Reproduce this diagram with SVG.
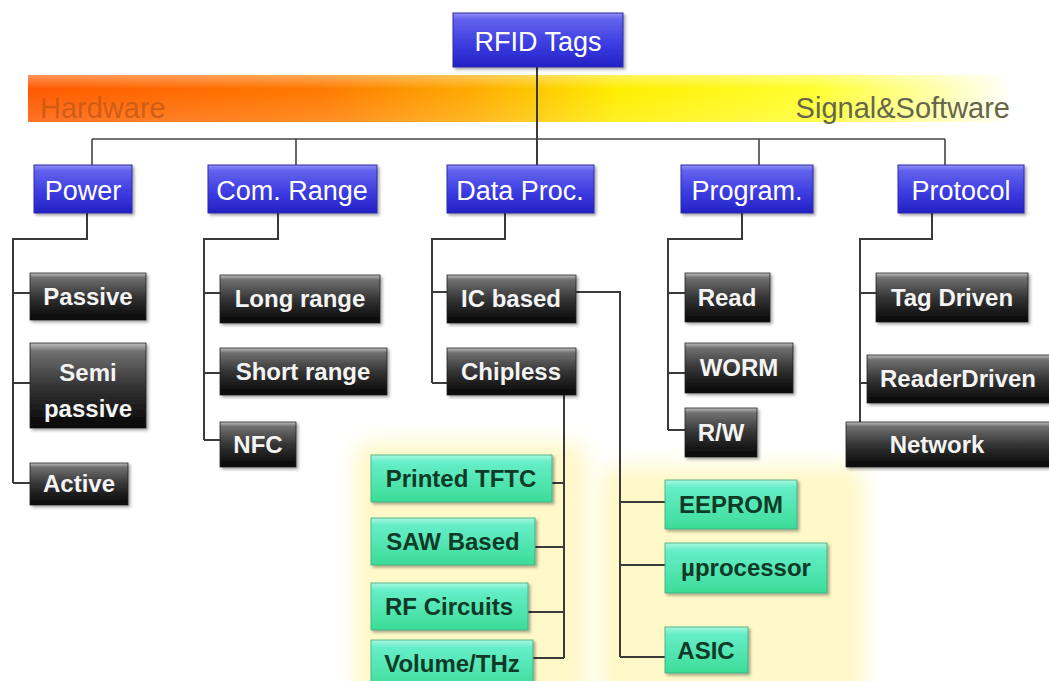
<svg xmlns="http://www.w3.org/2000/svg" width="1049" height="681" viewBox="0 0 1049 681">
<defs>
  <linearGradient id="band" x1="28" y1="0" x2="1012" y2="0" gradientUnits="userSpaceOnUse">
    <stop offset="0" stop-color="#ff5a00"/>
    <stop offset="0.3" stop-color="#ff7a00"/>
    <stop offset="0.45" stop-color="#ffaa00"/>
    <stop offset="0.6" stop-color="#ffee00"/>
    <stop offset="0.8" stop-color="#ffff30"/>
    <stop offset="0.93" stop-color="#ffffb0"/>
    <stop offset="1" stop-color="#ffffff"/>
  </linearGradient>
  <linearGradient id="bandGloss" x1="0" y1="0" x2="0" y2="1">
    <stop offset="0" stop-color="#ffffff" stop-opacity="0.35"/>
    <stop offset="0.3" stop-color="#ffffff" stop-opacity="0"/>
    <stop offset="1" stop-color="#ffffff" stop-opacity="0.15"/>
  </linearGradient>
  <linearGradient id="blue" x1="0" y1="0" x2="0" y2="1">
    <stop offset="0" stop-color="#9090f4"/>
    <stop offset="0.12" stop-color="#6262ee"/>
    <stop offset="0.6" stop-color="#3a3ae0"/>
    <stop offset="1" stop-color="#2222c4"/>
  </linearGradient>
  <linearGradient id="black" x1="0" y1="0" x2="0" y2="1">
    <stop offset="0" stop-color="#c0c0c0"/>
    <stop offset="0.1" stop-color="#707070"/>
    <stop offset="0.5" stop-color="#353535"/>
    <stop offset="1" stop-color="#050505"/>
  </linearGradient>
  <linearGradient id="green" x1="0" y1="0" x2="0" y2="1">
    <stop offset="0" stop-color="#a8f8e0"/>
    <stop offset="0.15" stop-color="#66eec8"/>
    <stop offset="1" stop-color="#3cdc98"/>
  </linearGradient>
  <filter id="sh" x="-10%" y="-10%" width="130%" height="140%">
    <feDropShadow dx="2" dy="2" stdDeviation="1.5" flood-color="#000" flood-opacity="0.35"/>
  </filter>
  <filter id="glow" x="-20%" y="-20%" width="140%" height="140%">
    <feGaussianBlur stdDeviation="10"/>
  </filter>
</defs>
<style>
  .lbl1 { font-family: "Liberation Sans", Arial, sans-serif; font-size: 27px; fill: #ffffff; text-anchor: middle; }
  .lblb { font-family: "Liberation Sans", Arial, sans-serif; font-size: 24px; font-weight: bold; fill: #f4f4f4; text-anchor: middle; }
  .lblg { font-family: "Liberation Sans", Arial, sans-serif; font-size: 24px; font-weight: bold; fill: #0f3a28; text-anchor: middle; }
  .bx { fill: url(#blue); stroke: #2a2aa8; stroke-width: 1; filter: url(#sh); }
  .kx { fill: url(#black); stroke: #222; stroke-width: 0.8; filter: url(#sh); }
  .gx { fill: url(#green); stroke: #3aa878; stroke-width: 0.8; filter: url(#sh); }
  .ln { fill: none; stroke: #3a3a3a; stroke-width: 2; }
  .bus { fill: none; stroke: #444; stroke-width: 1.6; }
</style>

<rect width="1049" height="681" fill="#ffffff"/>

<!-- background glows -->
<rect x="355" y="442" width="232" height="260" rx="20" fill="#fff8c8" filter="url(#glow)"/>
<rect x="600" y="466" width="265" height="240" rx="20" fill="#fff8c8" filter="url(#glow)"/>

<!-- Hardware / Software band -->
<g id="band-hw-sw">
  <rect x="28" y="75" width="984" height="47" fill="url(#band)"/>
  <rect x="28" y="75" width="984" height="47" fill="url(#bandGloss)"/>
  <text x="40" y="118" font-family="Liberation Sans, Arial, sans-serif" font-size="29" fill="#c85a14" fill-opacity="0.85">Hardware</text>
  <text x="1010" y="118" font-family="Liberation Sans, Arial, sans-serif" font-size="29" fill="#66664a" text-anchor="end">Signal&amp;Software</text>
</g>

<!-- connectors -->
<g id="connectors">
  <path class="ln" d="M537,67 V165"/>
  <path class="bus" d="M92,139 H945"/>
  <path class="bus" d="M92,139 V165 M296,139 V165 M759,139 V165 M945,139 V165"/>
  <!-- Power -->
  <path class="ln" d="M87,213 V239 H13 V483 M13,293 H30 M13,383 H30 M13,483 H30"/>
  <!-- Com. Range -->
  <path class="ln" d="M278,213 V239 H204 V440 M204,293 H220 M204,373 H220 M204,440 H220"/>
  <!-- Data Proc. -->
  <path class="ln" d="M505,213 V239 H432 V383 M432,292 H447 M432,383 H447"/>
  <!-- IC based -->
  <path class="ln" d="M576,292 H620 V657 M620,502 H665 M620,565 H665 M620,657 H665"/>
  <!-- Chipless -->
  <path class="ln" d="M564,395 V658 M552,483 H564 M535,547 H564 M528,612 H564 M533,658 H564"/>
  <!-- Program. -->
  <path class="ln" d="M742,213 V239 H668 V430 M668,293 H685 M668,373 H685 M668,430 H685"/>
  <!-- Protocol -->
  <path class="ln" d="M932,213 V239 H860 V422 M860,293 H876 M860,383 H867"/>
</g>

<!-- root -->
<g id="rfid-tags">
  <rect class="bx" x="453" y="13" width="170" height="54"/>
  <text class="lbl1" x="538" y="51" font-size="29">RFID Tags</text>
</g>

<!-- level 1 -->
<g id="power"><rect class="bx" x="34" y="165" width="98" height="48"/><text class="lbl1" x="83" y="200">Power</text></g>
<g id="com-range"><rect class="bx" x="208" y="165" width="169" height="48"/><text class="lbl1" x="292" y="200">Com. Range</text></g>
<g id="data-proc"><rect class="bx" x="447" y="165" width="147" height="48"/><text class="lbl1" x="520" y="200">Data Proc.</text></g>
<g id="program"><rect class="bx" x="681" y="165" width="132" height="48"/><text class="lbl1" x="747" y="200">Program.</text></g>
<g id="protocol"><rect class="bx" x="898" y="165" width="126" height="48"/><text class="lbl1" x="961" y="200">Protocol</text></g>

<!-- Power children -->
<g id="passive"><rect class="kx" x="30" y="273" width="116" height="47"/><text class="lblb" x="88" y="305">Passive</text></g>
<g id="semi-passive"><rect class="kx" x="30" y="343" width="116" height="85"/><text class="lblb" x="88" y="381">Semi</text><text class="lblb" x="88" y="417">passive</text></g>
<g id="active"><rect class="kx" x="30" y="463" width="98" height="42"/><text class="lblb" x="79" y="492">Active</text></g>

<!-- Com. Range children -->
<g id="long-range"><rect class="kx" x="220" y="275" width="160" height="48"/><text class="lblb" x="300" y="307">Long range</text></g>
<g id="short-range"><rect class="kx" x="220" y="348" width="167" height="47"/><text class="lblb" x="303" y="380">Short range</text></g>
<g id="nfc"><rect class="kx" x="220" y="422" width="76" height="45"/><text class="lblb" x="258" y="453">NFC</text></g>

<!-- Data Proc. children -->
<g id="ic-based"><rect class="kx" x="447" y="275" width="129" height="48"/><text class="lblb" x="511" y="307">IC based</text></g>
<g id="chipless"><rect class="kx" x="447" y="348" width="129" height="47"/><text class="lblb" x="511" y="380">Chipless</text></g>

<!-- Chipless children -->
<g id="printed-tftc"><rect class="gx" x="371" y="455" width="181" height="47"/><text class="lblg" x="461" y="487">Printed TFTC</text></g>
<g id="saw-based"><rect class="gx" x="371" y="518" width="164" height="47"/><text class="lblg" x="453" y="550">SAW Based</text></g>
<g id="rf-circuits"><rect class="gx" x="371" y="583" width="157" height="47"/><text class="lblg" x="449" y="615">RF Circuits</text></g>
<g id="volume-thz"><rect class="gx" x="371" y="640" width="162" height="50"/><text class="lblg" x="452" y="672">Volume/THz</text></g>

<!-- IC based children -->
<g id="eeprom"><rect class="gx" x="665" y="480" width="132" height="49"/><text class="lblg" x="731" y="513">EEPROM</text></g>
<g id="uprocessor"><rect class="gx" x="665" y="543" width="162" height="50"/><text class="lblg" x="746" y="576">µprocessor</text></g>
<g id="asic"><rect class="gx" x="665" y="627" width="83" height="46"/><text class="lblg" x="706" y="659">ASIC</text></g>

<!-- Program. children -->
<g id="read"><rect class="kx" x="685" y="273" width="85" height="49"/><text class="lblb" x="727" y="306">Read</text></g>
<g id="worm"><rect class="kx" x="685" y="343" width="108" height="50"/><text class="lblb" x="739" y="376">WORM</text></g>
<g id="rw"><rect class="kx" x="685" y="408" width="72" height="49"/><text class="lblb" x="721" y="441">R/W</text></g>

<!-- Protocol children -->
<g id="tag-driven"><rect class="kx" x="876" y="273" width="152" height="49"/><text class="lblb" x="952" y="306">Tag Driven</text></g>
<g id="reader-driven"><rect class="kx" x="867" y="355" width="184" height="48"/><text class="lblb" x="958" y="387">ReaderDriven</text></g>
<g id="network"><rect class="kx" x="846" y="422" width="205" height="45"/><text class="lblb" x="937" y="453">Network</text></g>
</svg>
